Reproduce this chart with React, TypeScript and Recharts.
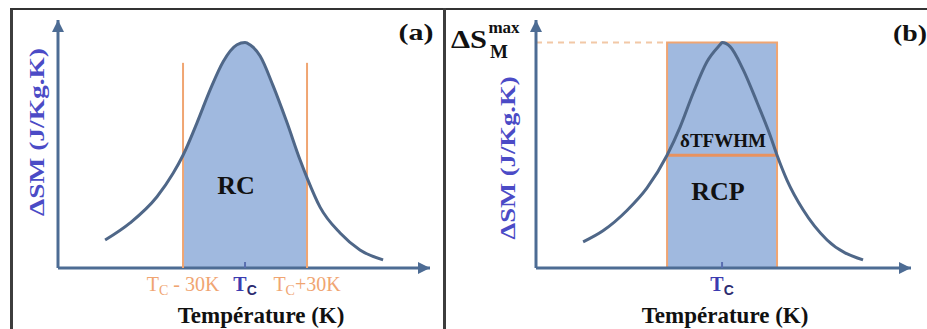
import React from "react";
import {
  ComposedChart,
  Line,
  Area,
  XAxis,
  YAxis,
  ReferenceLine,
  ReferenceArea,
  ReferenceDot,
} from "recharts";

// panel (a): temperature (K, Tc = 300) and ΔSM normalised to the peak
const tempsA = [232.3, 244.4, 257.4, 265.2, 270, 276.8, 283.1, 289.4, 296.1, 300, 302.4, 307.3, 313.5, 320.3, 326.6, 330, 336.3, 346, 355.6, 366.8];
const dsmA = [0.124, 0.2, 0.316, 0.42, 0.5, 0.645, 0.79, 0.915, 0.99, 1.0, 0.99, 0.94, 0.81, 0.645, 0.48, 0.4, 0.27, 0.155, 0.08, 0.036];

// panel (b)
const tempsB = [232.8, 242.4, 254.0, 263.7, 273.4, 279.7, 286.0, 292.7, 299.0, 300, 303.9, 310.2, 317.0, 323.2, 326.6, 331.4, 339.2, 350.8, 368.2];
const dsmB = [0.116, 0.165, 0.255, 0.355, 0.5, 0.625, 0.775, 0.915, 0.99, 1.0, 0.982, 0.88, 0.733, 0.59, 0.5, 0.39, 0.258, 0.124, 0.036];

const TC = 300;
const rcLimits = [270, 330]; // Tc - 30K, Tc + 30K
const fwhmLimits = [273.4, 326.6];
const peak = 1.0;
const halfMax = 0.5;

const ticksA = [270, 300, 330];
const ticksB = [300];

const AXIS = "#4d6c94";
const CURVE = "#4f6788";
const FILL = "#a0b9df";
const ORANGE = "#f0a572";
const BLUE_TXT = "#4b4bc6";
const SERIF = "Liberation Serif";
const SANS = "Liberation Sans";

const dataA = tempsA.map((t, i) => ({
  t,
  v: dsmA[i],
  band: t >= rcLimits[0] && t <= rcLimits[1] ? dsmA[i] : null,
}));
const dataB = tempsB.map((t, i) => ({ t, v: dsmB[i] }));

function TcTick(props: any) {
  const { x, y, payload } = props;
  const val = payload.value;
  const isTc = val === TC;
  const color = isTc ? "#3b3bb0" : ORANGE;
  const suffix = val < TC ? " - 30K" : val > TC ? "+30K" : "";
  return (
    <g>
      <line x1={x} x2={x} y1={y - 14} y2={y - 8} stroke={isTc ? "#5a6fb0" : ORANGE} strokeWidth={2} />
      <text x={x} y={y + 15} textAnchor="middle" fill={color} fontFamily={SERIF} fontSize={20} fontWeight={isTc ? 700 : 400}>
        <tspan>T</tspan>
        <tspan dy={4} fontSize={14} fontFamily={isTc ? SANS : SERIF} fontWeight={isTc ? 700 : 400} fill={isTc ? "#2c2c70" : color}>C</tspan>
        <tspan dy={-4}>{suffix}</tspan>
      </text>
    </g>
  );
}

const arrowRight = (props: any) => (
  <polygon points={`${props.cx},${props.cy} ${props.cx - 12},${props.cy - 6} ${props.cx - 12},${props.cy + 6}`} fill={AXIS} />
);
const arrowUp = (props: any) => (
  <polygon points={`${props.cx},${props.cy} ${props.cx - 6},${props.cy + 12} ${props.cx + 6},${props.cy + 12}`} fill={AXIS} />
);

function T({ x, y, size, color = "#111", rotate = 0, anchor = "middle", len, children }: any) {
  return (
    <text
      x={x}
      y={y}
      fontFamily={SERIF}
      fontWeight={700}
      fontSize={size}
      fill={color}
      textAnchor={anchor}
      dominantBaseline="central"
      textLength={len}
      lengthAdjust={len ? "spacingAndGlyphs" : undefined}
      transform={rotate ? `rotate(${rotate}, ${x}, ${y})` : undefined}
    >
      {children}
    </text>
  );
}

export default function App() {
  const domA: [number, number] = [209.5, 389.5];
  const domB: [number, number] = [210, 391.4];
  return (
    <div style={{ position: "absolute", left: 0, top: 0, width: 927, height: 329, background: "#fff", overflow: "hidden" }}>
      {/* frame */}
      <div style={{ position: "absolute", left: 10, top: 8, width: 3, height: 321, background: "#3d3d3d" }} />
      <div style={{ position: "absolute", left: 10, top: 8, width: 917, height: 2, background: "#333" }} />
      <div style={{ position: "absolute", left: 443, top: 8, width: 3, height: 321, background: "#3d3d3d" }} />

      {/* panel (a) */}
      <div style={{ position: "absolute", left: 0, top: 0 }}>
        <ComposedChart width={447} height={329} data={dataA} margin={{ top: 20, right: 17, bottom: 60, left: 57 }}>
          <XAxis type="number" dataKey="t" domain={domA} allowDataOverflow ticks={ticksA} tick={<TcTick />} tickLine={false} height={1} axisLine={{ stroke: AXIS, strokeWidth: 3 }} />
          <YAxis type="number" domain={[0, 1.1]} allowDataOverflow width={1} tick={false} tickLine={false} axisLine={{ stroke: AXIS, strokeWidth: 3 }} />
          <Area type="monotone" dataKey="band" stroke="none" fill={FILL} fillOpacity={1} connectNulls={false} isAnimationActive={false} />
          <ReferenceLine segment={[{ x: rcLimits[0], y: 0 }, { x: rcLimits[0], y: 0.91 }]} stroke={ORANGE} strokeWidth={2} />
          <ReferenceLine segment={[{ x: rcLimits[1], y: 0 }, { x: rcLimits[1], y: 0.91 }]} stroke={ORANGE} strokeWidth={2} />
          <Line type="monotone" dataKey="v" stroke={CURVE} strokeWidth={3} dot={false} isAnimationActive={false} />
          <ReferenceDot x={domA[1]} y={0} ifOverflow="visible" shape={arrowRight} />
          <ReferenceDot x={domA[0]} y={1.1} ifOverflow="visible" shape={arrowUp} />
        </ComposedChart>
      </div>

      {/* panel (b) */}
      <div style={{ position: "absolute", left: 450, top: 0 }}>
        <ComposedChart width={477} height={329} data={dataB} margin={{ top: 20, right: 16, bottom: 60, left: 85 }}>
          <XAxis type="number" dataKey="t" domain={domB} allowDataOverflow ticks={ticksB} tick={<TcTick />} tickLine={false} height={1} axisLine={{ stroke: AXIS, strokeWidth: 3 }} />
          <YAxis type="number" domain={[0, 1.1]} allowDataOverflow width={1} tick={false} tickLine={false} axisLine={{ stroke: AXIS, strokeWidth: 3 }} />
          <ReferenceArea x1={fwhmLimits[0]} x2={fwhmLimits[1]} y1={0} y2={peak} fill={FILL} fillOpacity={1} stroke={ORANGE} strokeWidth={2} />
          <ReferenceLine segment={[{ x: domB[0], y: peak }, { x: fwhmLimits[0], y: peak }]} stroke="#f2c8a6" strokeWidth={2} strokeDasharray="6 5" />
          <ReferenceLine segment={[{ x: fwhmLimits[0], y: halfMax }, { x: fwhmLimits[1], y: halfMax }]} stroke="#e8925f" strokeWidth={3} />
          <Line type="monotone" dataKey="v" stroke={CURVE} strokeWidth={3} dot={false} isAnimationActive={false} />
          <ReferenceDot x={domB[1]} y={0} ifOverflow="visible" shape={arrowRight} />
          <ReferenceDot x={domB[0]} y={1.1} ifOverflow="visible" shape={arrowUp} />
        </ComposedChart>
      </div>

      {/* text overlay */}
      <svg width={927} height={329} style={{ position: "absolute", left: 0, top: 0, pointerEvents: "none" }}>
        {/* (a) */}
        <T x={37} y={132} size={21} color={BLUE_TXT} rotate={-90} len={168}>ΔSM (J/Kg.K)</T>
        <T x={261} y={315} size={23}>Température (K)</T>
        <T x={236} y={185} size={26}>RC</T>
        <T x={416} y={32} size={23} len={35}>(a)</T>
        {/* (b) */}
        <T x={508} y={158} size={21} color={BLUE_TXT} rotate={-90} len={163}>ΔSM (J/Kg.K)</T>
        <T x={725} y={315} size={23}>Température (K)</T>
        <T x={723} y={140} size={19}>δTFWHM</T>
        <T x={718} y={191} size={26}>RCP</T>
        <T x={893} y={33} size={23} anchor="start" len={34}>(b)</T>
        <T x={469} y={39} size={26} len={36}>ΔS</T>
        <T x={504} y={27} size={17}>max</T>
        <T x={499} y={51} size={19}>M</T>
      </svg>
    </div>
  );
}
